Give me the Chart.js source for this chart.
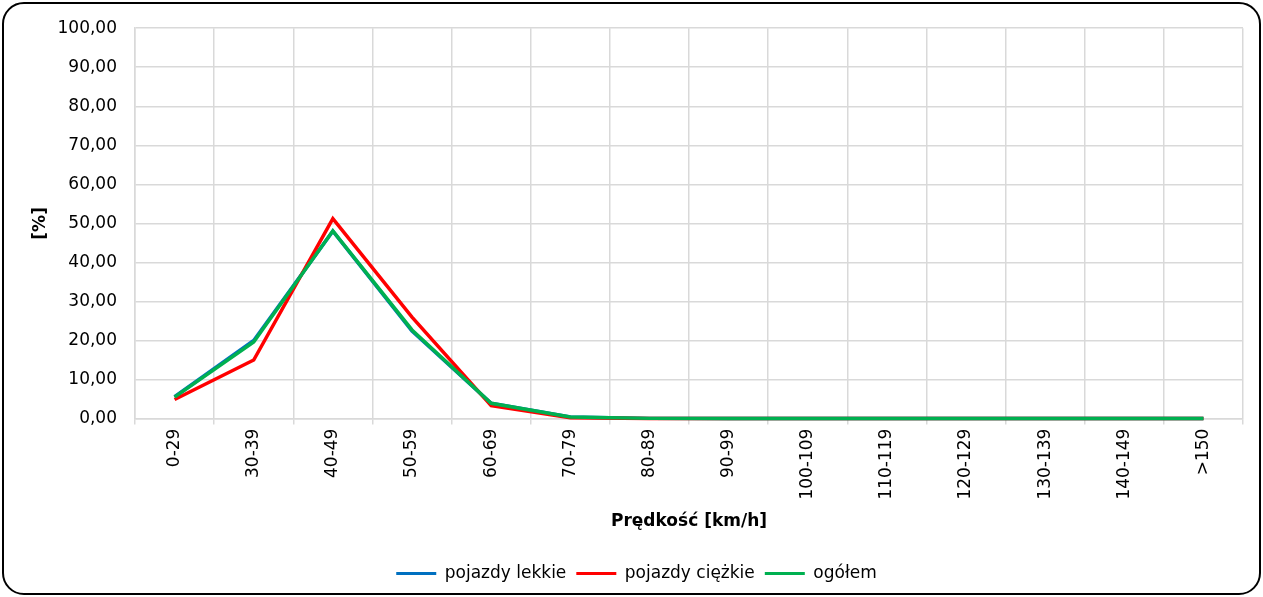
<!DOCTYPE html>
<html>
<head>
<meta charset="utf-8">
<script src="https://cdn.jsdelivr.net/npm/chart.js@4"></script>
<style>
  html, body { margin: 0; padding: 0; background: #fff; }
  #frame { position: absolute; left: 2px; top: 2px; width: 1259px; height: 593px; box-sizing: border-box; border: 2px solid #000; border-radius: 22px; }
  #c { position: absolute; left: 0; top: 0; }
</style>
</head>
<body>
<div id="frame"></div>
<canvas id="c" width="1263" height="597"></canvas>
<script>
const categories = ['0-29','30-39','40-49','50-59','60-69','70-79','80-89','90-99','100-109','110-119','120-129','130-139','140-149','>150'];
const lekkie  = [5.6, 20.0, 48.0, 22.4, 3.9, 0.4, 0.05, 0, 0, 0, 0, 0, 0, 0];
const ciezkie = [4.9, 15.0, 51.2, 26.0, 3.3, 0.2, 0, 0, 0, 0, 0, 0, 0, 0];
const ogolem  = [5.5, 19.6, 48.1, 22.7, 3.9, 0.4, 0.05, 0, 0, 0, 0, 0, 0, 0];
const seriesNames = ['pojazdy lekkie', 'pojazdy ciężkie', 'ogółem'];
const yTicks = [0, 10, 20, 30, 40, 50, 60, 70, 80, 90, 100];

const FONT = 'DejaVu Sans, Verdana, sans-serif';
const FS = 17;
const GRID = '#D9D9D9';

new Chart(document.getElementById('c'), {
  type: 'line',
  data: {
    labels: categories,
    datasets: [
      { label: seriesNames[0], data: lekkie, borderColor: '#0070C0', backgroundColor: '#0070C0', order: 3, clip: false },
      { label: seriesNames[1], data: ciezkie, borderColor: '#FF0000', backgroundColor: '#FF0000', order: 2, clip: false },
      { label: seriesNames[2], data: ogolem, borderColor: '#00B050', backgroundColor: '#00B050', order: 1, clip: false }
    ]
  },
  options: {
    responsive: false,
    animation: false,
    devicePixelRatio: 1,
    elements: {
      line: { borderWidth: 3.5, tension: 0 },
      point: { radius: 0, hoverRadius: 0 }
    },
    layout: { autoPadding: false, padding: { left: 30, right: 20, top: 25, bottom: 5 } },
    plugins: {
      tooltip: { enabled: false },
      legend: {
        position: 'bottom',
        labels: {
          font: { family: FONT, size: FS },
          color: '#000',
          boxWidth: 40,
          boxHeight: 3,
          padding: 10,
          generateLabels: (chart) => chart.data.datasets.map((ds, i) => ({
            text: ds.label, fillStyle: ds.borderColor, strokeStyle: ds.borderColor, lineWidth: 0, datasetIndex: i, hidden: false
          }))
        }
      }
    },
    scales: {
      x: {
        offset: true,
        grid: { color: GRID, lineWidth: 1.5, offset: true, drawTicks: true, tickLength: 6, tickColor: GRID },
        border: { color: GRID, width: 1.5 },
        ticks: { font: { family: FONT, size: FS }, color: '#000', minRotation: 90, maxRotation: 90, autoSkip: false, padding: 4 },
        title: { display: true, text: 'Prędkość [km/h]', font: { family: FONT, size: FS, weight: 'bold' }, color: '#000', padding: { top: 8, bottom: 23 } }
      },
      y: {
        min: 0, max: 100,
        afterBuildTicks: (axis) => { axis.ticks = yTicks.map(v => ({ value: v })); },
        afterFit: (axis) => { axis.width = 105; },
        grid: { color: GRID, lineWidth: 1.5, drawTicks: false },
        border: { color: GRID, width: 1.5 },
        ticks: { font: { family: FONT, size: FS }, color: '#000', padding: 18, callback: (v) => Number(v).toFixed(2).replace('.', ',') },
        title: { display: true, text: '[%]', font: { family: FONT, size: FS, weight: 'bold' }, color: '#000', padding: { top: 0, bottom: 6 } }
      }
    }
  }
});
</script>
</body>
</html>
